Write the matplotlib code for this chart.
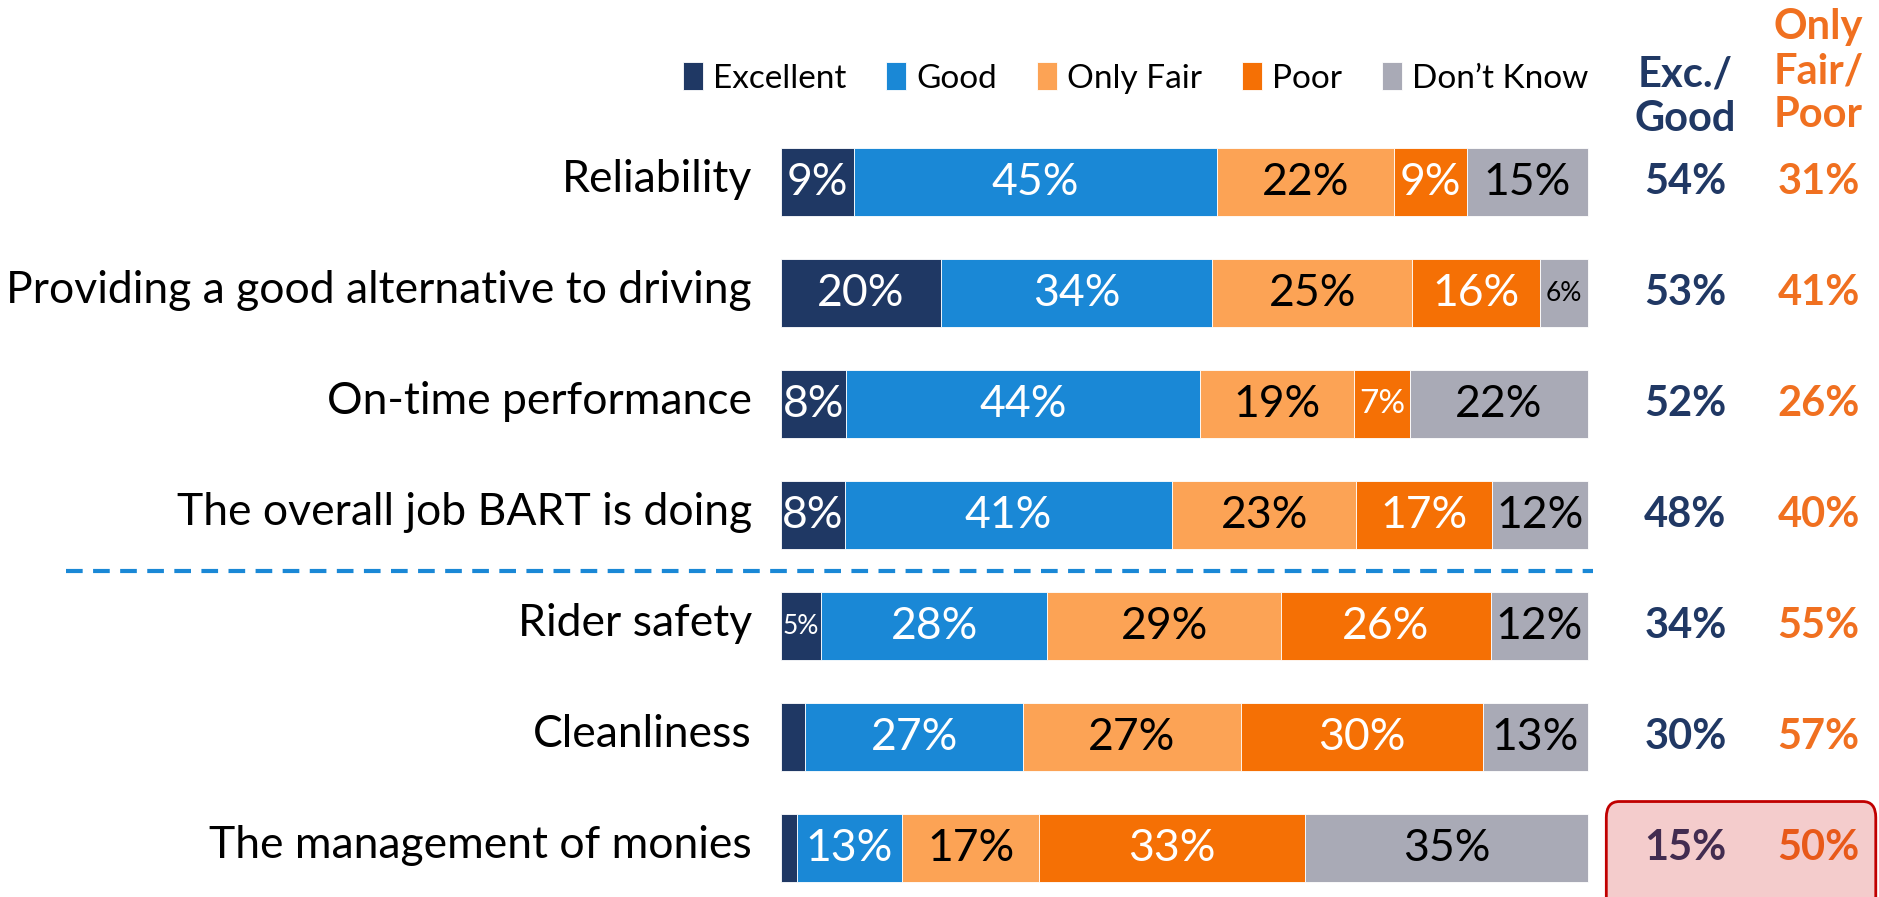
import numpy as np
import matplotlib.pyplot as plt
from matplotlib.patches import FancyBboxPatch

plt.rcParams['font.family'] = ['Lato', 'DejaVu Sans']

# data
items = ['Reliability', 'Providing a good alternative to driving', 'On-time performance',
         'The overall job BART is doing', 'Rider safety', 'Cleanliness',
         'The management of monies']
series = ['Excellent', 'Good', 'Only Fair', 'Poor', 'Don\u2019t Know']
excellent = [9, 20, 8, 8, 5, 3, 2]
good = [45, 34, 44, 41, 28, 27, 13]
only_fair = [22, 25, 19, 23, 29, 27, 17]
poor = [9, 16, 7, 17, 26, 30, 33]
dont_know = [15, 6, 22, 12, 12, 13, 35]
exc_good = [54, 53, 52, 48, 34, 30, 15]
fair_poor = [31, 41, 26, 40, 55, 57, 50]

colors = ['#1f3864', '#1a88d6', '#fca355', '#f57005', '#a9aab6']
text_colors = ['white', 'white', 'black', 'white', 'black']
navy = '#203864'
orange = '#f07020'

fig = plt.figure(figsize=(18.79, 8.97), dpi=100)
ax = fig.add_axes([0, 0, 1, 1])
ax.set_xlim(-96.8, 136.1)
ax.set_ylim(6.44, -1.64)
ax.axis('off')

table = np.array([excellent, good, only_fair, poor, dont_know], dtype=float)
shares = table / table.sum(axis=0) * 100  # rows drawn to full width

y = np.arange(len(items))
left = np.zeros(len(items))
for s, vals, shr, c, tc in zip(series, table, shares, colors, text_colors):
    ax.barh(y, shr, left=left, height=0.61, color=c, label=s,
            edgecolor='white', linewidth=0.6)
    for yi, l, w, v in zip(y, left, shr, vals):
        if v < 5:
            continue
        fs = 32
        if v <= 6:
            fs = 19
        elif v == 7:
            fs = 24
        ax.text(l + w / 2, yi, f'{int(v)}%', ha='center', va='center', color=tc, fontsize=fs)
    left += shr

for yi, name in zip(y, items):
    ax.text(-3.6, yi - 0.02, name, ha='right', va='center', fontsize=32, color='black')

for yi, a, b in zip(y, exc_good, fair_poor):
    ax.text(112.1, yi, f'{a}%', ha='center', va='center', fontsize=30,
            fontweight='bold', color=navy)
    ax.text(128.6, yi, f'{b}%', ha='center', va='center', fontsize=30,
            fontweight='bold', color=orange)

ax.text(112.1, -0.77, 'Exc./\nGood', ha='center', va='center', fontsize=30,
        fontweight='bold', color=navy, linespacing=1.2)
ax.text(128.6, -1.0, 'Only\nFair/\nPoor', ha='center', va='center', fontsize=30,
        fontweight='bold', color=orange, linespacing=1.2)

# divider
ax.plot([-88.6, 100.6], [3.5, 3.5], ls=(0, (4, 2.5)), color='#1a88d6', lw=3)

# highlight box
box = FancyBboxPatch((102.3, 5.58), 33.4, 1.0, boxstyle='round,pad=0,rounding_size=1.6',
                     mutation_aspect=0.09,
                     facecolor=(0.8, 0, 0, 0.2), edgecolor='#c00000', lw=2, zorder=5)
ax.add_patch(box)

ax.legend(loc='center right', bbox_to_anchor=(1588 / 1879, 1 - 78 / 897), ncol=5,
          frameon=False, fontsize=24, handlelength=0.6, handleheight=0.9,
          handletextpad=0.3, columnspacing=1.2, borderaxespad=0, borderpad=0)

fig.savefig('out.png', dpi=100)
